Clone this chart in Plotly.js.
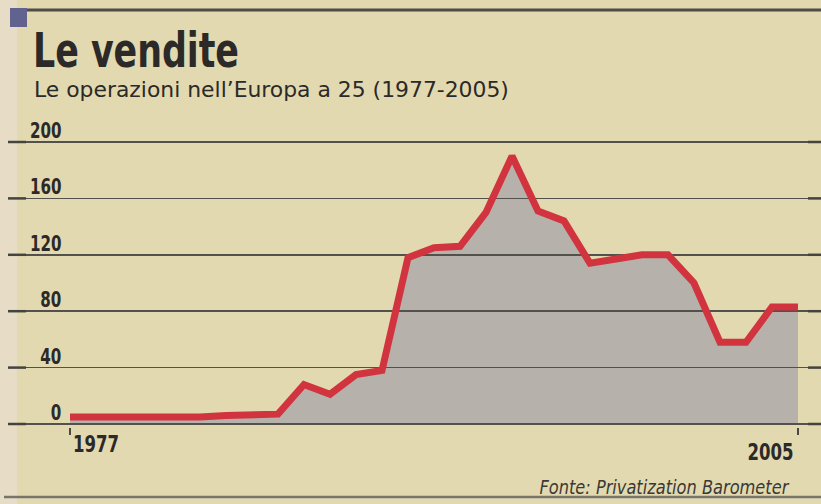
<!DOCTYPE html>
<html><head><meta charset="utf-8">
<script src="https://cdn.plot.ly/plotly-3.0.1.min.js"></script>
<style>html,body{margin:0;padding:0;background:#e3d9b0;} #chart{width:821px;height:504px;}</style>
</head><body><div id="chart"></div>
<script>
// ---- data ----
const years = [1977,1978,1979,1980,1981,1982,1983,1984,1985,1986,1987,1988,1989,1990,1991,1992,1993,1994,1995,1996,1997,1998,1999,2000,2001,2002,2003,2004,2005];
const operations = [5,5,4,4,4,5,6,6,7,28,21,35,38,118,125,126,150,190,151,144,114,117,120,120,100,58,58,83,83];
const yTickValues = [0,40,80,120,160,200];
const yTickLabels = ['0','40','80','120','160','200'];
const xTickValues = [1977,2005];
const xTickLabels = ['1977','2005'];
const titleText = 'Le vendite';
const subtitleText = 'Le operazioni nell\u2019Europa a 25 (1977-2005)';
const sourceText = 'Fonte: Privatization Barometer';

// ---- styling / layout ----
const W = 821, H = 504;
const M = {l: 8, r: 0, t: 139, b: 77};
const PW = W - M.l - M.r, PH = H - M.t - M.b;
const px = x => (x - M.l) / PW;
const py = y => (H - M.b - y) / PH;
const COND = 'DejaVu Sans Condensed, Liberation Sans Narrow, sans-serif';
const INK = '#2b2a28';
const BG = '#e3d9b0';
const xRange = [1974.615, 2005.885];
const yRange = [-2.13, 202.13];

const fillTrace = {
  x: years, y: operations, xaxis: 'x', yaxis: 'y',
  type: 'scatter', mode: 'none', fill: 'tozeroy', fillcolor: '#b6b1ab',
  hoverinfo: 'skip', showlegend: false
};
const lineTrace = {
  x: years, y: operations, xaxis: 'x2', yaxis: 'y2',
  type: 'scatter', mode: 'lines',
  line: {color: '#d1343f', width: 7},
  showlegend: false
};

// horizontal fitting: {index: {width: targetPx}} or {index: {scale: s}}
const fit = {};
const annotations = [];
function addAnn(a, f) { fit[annotations.length] = f; annotations.push(a); }

addAnn({text: '<b>' + titleText + '</b>', xref: 'paper', yref: 'paper',
  x: px(31), y: py(50), xanchor: 'left', yanchor: 'middle', showarrow: false,
  font: {family: COND, size: 48, color: INK}}, {width: 206, anchor: 'left'});
addAnn({text: subtitleText, xref: 'paper', yref: 'paper',
  x: px(32), y: py(90), xanchor: 'left', yanchor: 'middle', showarrow: false,
  font: {family: COND, size: 21, color: INK}}, {width: 475, anchor: 'left'});
yTickValues.forEach((v, i) => addAnn({
  text: '<b>' + yTickLabels[i] + '</b>', xref: 'paper', yref: 'y2', x: px(63), y: v,
  xanchor: 'right', yanchor: 'bottom', yshift: -3, showarrow: false,
  font: {family: COND, size: 21, color: INK}}, {scale: 0.8, anchor: 'right'}));
addAnn({text: '<b>' + xTickLabels[0] + '</b>', xref: 'x2', yref: 'paper',
  x: xTickValues[0], y: py(444), xanchor: 'left', yanchor: 'middle', xshift: 1, showarrow: false,
  font: {family: COND, size: 23, color: INK}}, {scale: 0.8, anchor: 'left'});
addAnn({text: '<b>' + xTickLabels[1] + '</b>', xref: 'x2', yref: 'paper',
  x: xTickValues[1], y: py(452), xanchor: 'right', yanchor: 'middle', xshift: -2, showarrow: false,
  font: {family: COND, size: 23, color: INK}}, {scale: 0.8, anchor: 'right'});
addAnn({text: '<i>' + sourceText + '</i>', xref: 'paper', yref: 'paper',
  x: px(791), y: py(487), xanchor: 'right', yanchor: 'middle', showarrow: false,
  font: {family: COND, size: 19, color: '#3a3936'}}, {width: 250, anchor: 'right'});

const shapes = [
  {type: 'rect', xref: 'paper', yref: 'paper', x0: px(0), x1: px(17), y0: py(0), y1: py(504),
   fillcolor: '#e7ddc6', line: {width: 0}, layer: 'below'},
  {type: 'rect', xref: 'paper', yref: 'paper', x0: px(10), x1: px(27), y0: py(8), y1: py(27),
   fillcolor: '#62628f', line: {width: 0}},
  {type: 'line', xref: 'paper', yref: 'paper', x0: px(27), x1: px(821), y0: py(10), y1: py(10),
   line: {color: '#4f4d48', width: 3}},
  {type: 'line', xref: 'paper', yref: 'paper', x0: px(4), x1: px(821), y0: py(497), y1: py(497),
   line: {color: '#77746c', width: 2.5}}
];
// darker short dashes at both ends of each grid line
yTickValues.forEach(v => {
  shapes.push({type: 'line', xref: 'paper', yref: 'y2', x0: px(8), x1: px(26), y0: v, y1: v,
    line: {color: '#45433e', width: 2.5}});
  shapes.push({type: 'line', xref: 'paper', yref: 'y2', x0: px(808), x1: px(821), y0: v, y1: v,
    line: {color: '#45433e', width: 2.5}});
});

const layout = {
  width: W, height: H, margin: M,
  paper_bgcolor: BG, plot_bgcolor: 'rgba(0,0,0,0)',
  xaxis: {domain: [0, 1], range: xRange, visible: false, fixedrange: true},
  yaxis: {domain: [0, 1], range: yRange, visible: false, fixedrange: true},
  xaxis2: {domain: [0, 1], anchor: 'y2', range: xRange, showgrid: false, zeroline: false,
    showline: false, tickmode: 'array', tickvals: xTickValues, ticks: 'outside', ticklen: 7,
    tickwidth: 2, tickcolor: '#4a4843', showticklabels: false, fixedrange: true},
  yaxis2: {domain: [0, 1], anchor: 'x2', range: yRange, showgrid: true, gridcolor: '#53514b',
    gridwidth: 1.6, zeroline: false, showline: false, tickmode: 'array', tickvals: yTickValues,
    showticklabels: false, ticks: '', fixedrange: true},
  annotations: annotations, shapes: shapes, showlegend: false
};

Plotly.newPlot('chart', [fillTrace, lineTrace], layout, {displayModeBar: false, staticPlot: true})
.then(gd => {
  Object.keys(fit).forEach(i => {
    const f = fit[i];
    const t = gd.querySelector('g.annotation[data-index="' + i + '"] text.annotation-text');
    if (!t) return;
    const b = t.getBBox();
    const s = f.scale != null ? f.scale : f.width / b.width;
    const ax = f.anchor === 'right' ? b.x + b.width : b.x;
    t.setAttribute('transform', 'translate(' + ax + ',0) scale(' + s + ',1) translate(' + (-ax) + ',0)');
  });
});
</script></body></html>
